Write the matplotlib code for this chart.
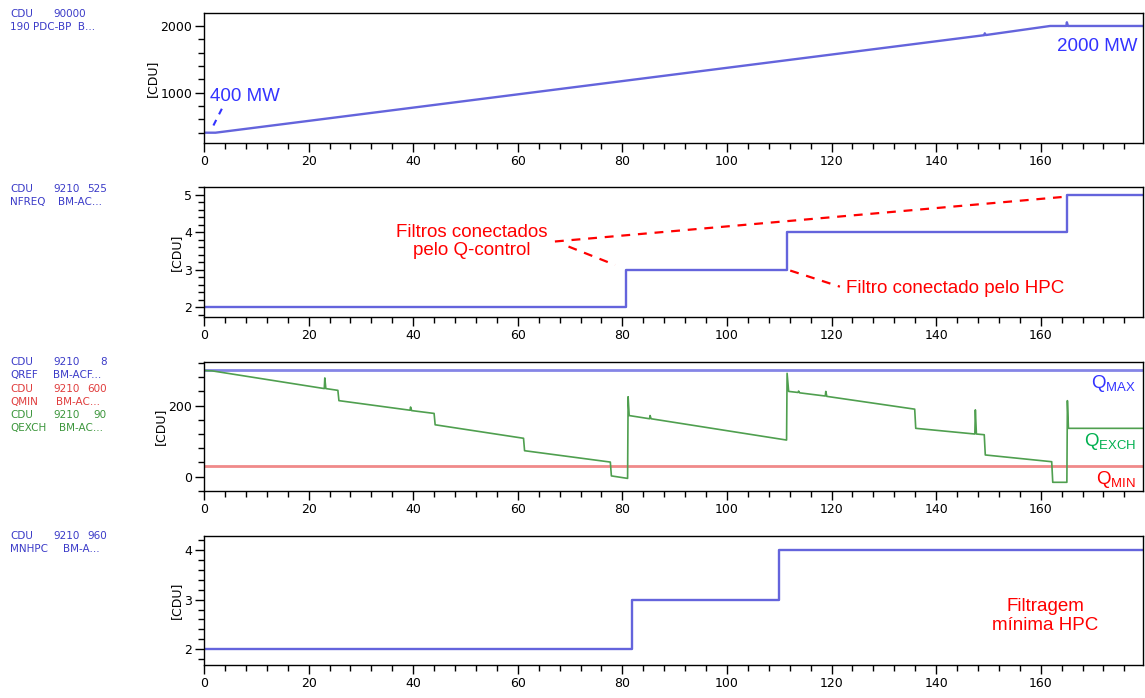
import numpy as np
import matplotlib
matplotlib.use('Agg')
import matplotlib.pyplot as plt
from matplotlib.ticker import MultipleLocator

plt.rcParams['font.family'] = ['DejaVu Sans']
plt.rcParams['mathtext.fontset'] = 'custom'
plt.rcParams['mathtext.rm'] = 'Liberation Sans'

# ---- data ----
power_t = [0, 2.2, 149.2, 149.3, 149.5, 161.8, 164.9, 165.0, 165.2, 179.5]
power = [400, 400, 1862, 1890, 1864, 2000, 2000, 2055, 2000, 2000]

nfreq_t = [0, 80.7, 111.5, 165.1, 179.5]
nfreq = [2, 3, 4, 5, 5]

qmax = 300
qmin = 30
qexch_t = [0, 1.5, 23.0, 23.1, 23.3, 25.6, 25.8, 39.4, 39.5, 39.7, 44.0, 44.2,
           61.1, 61.3, 77.7, 77.9, 81.0, 81.1, 81.3, 85.2, 85.3, 85.5, 111.4,
           111.5, 111.8, 113.6, 113.7, 113.9, 118.8, 118.9, 119.1, 135.9, 136.1,
           147.4, 147.5, 147.7, 149.2, 149.4, 162.1, 162.3, 165.0, 165.1, 165.3, 179.5]
qexch = [299, 298, 248, 278, 248, 243, 214, 187, 196, 186, 178, 146,
         108, 73, 41, 2, -5, 225, 172, 163, 172, 163, 103,
         291, 240, 237, 241, 236, 227, 240, 226, 190, 136,
         120, 188, 120, 118, 61, 42, -16, -16, 214, 136, 136]

mnhpc_t = [0, 81.8, 110.0, 179.5]
mnhpc = [2, 3, 4, 4]

xticks = [0, 20, 40, 60, 80, 100, 120, 140, 160]

# signal names on the left: (name, number, block)
sig_head = [("CDU", "90000", ""),
            ("CDU", "9210", "525"),
            ("CDU", "9210", "8"), ("CDU", "9210", "600"), ("CDU", "9210", "90"),
            ("CDU", "9210", "960")]
sig_tail = [("190 PDC-BP  B...", ""),
            ("NFREQ", "BM-AC..."),
            ("QREF", "BM-ACF..."), ("QMIN", "BM-AC..."), ("QEXCH", "BM-AC..."),
            ("MNHPC", "BM-A...")]
sig_color = ['#3b3bc8', '#3b3bc8', '#3b3bc8', '#e03c3c', '#3c963c', '#3b3bc8']
sig_y = [14, 189, 362, 388.5, 415, 536]
tail_x = [10, 58, 53, 56, 59, 63]

W, H = 1145, 698
fig = plt.figure(figsize=(W / 100, H / 100), dpi=100)

# panel frames in pixels (top, bottom)
frames = [(13.3, 143.3), (187.3, 316.7), (362.3, 491.0), (535.7, 665.0)]
ylims = [(241, 2190), (1.75, 5.2), (-40.5, 322), (1.68, 4.29)]
ymajor = [1000, 1, 200, 1]
yminor = [200, 0.2, 40, 0.2]

blue = '#6464dc'
axes = []
for i, (top, bot) in enumerate(frames):
    ax = fig.add_axes([204 / W, 1 - bot / H, (1142.7 - 204) / W, (bot - top) / H])
    ax.set_xlim(0, 179.5)
    ax.set_ylim(*ylims[i])
    ax.set_xticks(xticks)
    ax.xaxis.set_minor_locator(MultipleLocator(4))
    ax.yaxis.set_major_locator(MultipleLocator(ymajor[i]))
    ax.yaxis.set_minor_locator(MultipleLocator(yminor[i]))
    ax.tick_params(which='major', length=6.5, width=1, labelsize=9, pad=2)
    ax.tick_params(which='minor', length=4, width=1)
    ax.set_ylabel('[CDU]', fontsize=9, labelpad=1)
    for s in ax.spines.values():
        s.set_linewidth(1)
    axes.append(ax)

ax1, ax2, ax3, ax4 = axes

# panel 1
ax1.plot(power_t, power, color=blue, lw=1.7)
ax1.plot([1.8, 3.7], [508, 803], color='#3333ff', lw=1.5, ls=(0, (3, 3)))
ax1.text(1.15, 941, '400 MW', color='#3333ff', fontsize=13.5,
         family='Liberation Sans', ha='left', va='center')
ax1.text(170.9, 1697, '2000 MW', color='#3333ff', fontsize=13.5,
         family='Liberation Sans', ha='center', va='center')

# panel 2
ax2.plot(nfreq_t, nfreq, color=blue, lw=1.7, drawstyle='steps-post')
red_dash = dict(color='#ff0000', lw=1.6, ls=(0, (4, 3.5)))
ax2.plot([67.1, 164.0], [3.755, 4.94], **red_dash)
ax2.plot([69.7, 78.6], [3.62, 3.13], **red_dash)
ax2.plot([112.1, 121.6], [2.98, 2.55], **red_dash)
ax2.text(51.2, 3.747, 'Filtros conectados\npelo Q-control', color='#ff0000',
         fontsize=13.5, family='Liberation Sans', ha='center', va='center',
         linespacing=1.1)
ax2.text(122.8, 2.49, 'Filtro conectado pelo HPC', color='#ff0000',
         fontsize=13.5, family='Liberation Sans', ha='left', va='center')

# panel 3
ax3.axhline(qmax, color='#8585e6', lw=2)
ax3.axhline(qmin, color='#f08a8a', lw=2)
ax3.plot(qexch_t, qexch, color='#4f9f4f', lw=1.2)
ax3.text(178.2, 263, r'Q$_{\mathregular{MAX}}$', color='#3333ff', fontsize=13.5,
         family='Liberation Sans', ha='right', va='center')
ax3.text(178.2, 100, r'Q$_{\mathregular{EXCH}}$', color='#00b050', fontsize=13.5,
         family='Liberation Sans', ha='right', va='center')
ax3.text(178.2, -8, r'Q$_{\mathregular{MIN}}$', color='#ff0000', fontsize=13.5,
         family='Liberation Sans', ha='right', va='center')

# panel 4
ax4.plot(mnhpc_t, mnhpc, color=blue, lw=1.7, drawstyle='steps-post')
ax4.text(160.9, 2.67, 'Filtragem\nmínima HPC', color='#ff0000', fontsize=13.5,
         family='Liberation Sans', ha='center', va='center', linespacing=1.17)

# signal names on the left
lab = dict(fontsize=7.5, va='center')
for head, tail, col, y, tx in zip(sig_head, sig_tail, sig_color, sig_y, tail_x):
    fy = 1 - y / H
    fig.text(10 / W, fy, head[0], color=col, ha='left', **lab)
    fig.text(53 / W, fy, head[1], color=col, ha='left', **lab)
    if head[2]:
        fig.text(107 / W, fy, head[2], color=col, ha='right', **lab)
    fy2 = 1 - (y + 13.4) / H
    fig.text(10 / W, fy2, tail[0], color=col, ha='left', **lab)
    if tail[1]:
        fig.text(tx / W, fy2, tail[1], color=col, ha='left', **lab)

fig.savefig('out.png', dpi=100)
